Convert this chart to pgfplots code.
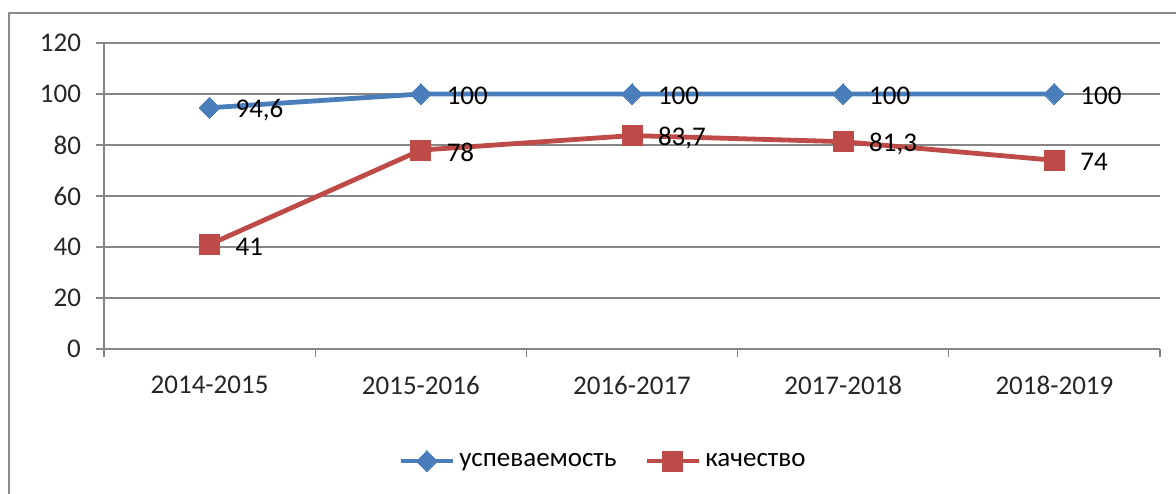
\documentclass[border=0pt]{standalone}
\usepackage{fontspec}
\setmainfont{Carlito}
\usepackage{pgfplots}
\pgfplotsset{compat=1.18}
\definecolor{sblue}{RGB}{74,126,187}
\definecolor{sred}{RGB}{190,75,72}
\definecolor{gridc}{RGB}{134,134,134}
\definecolor{framec}{RGB}{140,140,140}
\begin{document}
\begin{tikzpicture}
\clip (0,0) rectangle (588pt,246.5pt);
\fill[white] (0,0) rectangle (588pt,246.5pt);
\draw[framec, line width=1pt] (4.5pt,-5pt) -- (4.5pt,240pt) -- (600pt,240pt);
\begin{axis}[
  at={(52pt,72pt)}, anchor=south west,
  scale only axis, width=528pt, height=153pt,
  xmin=0.5, xmax=5.5, ymin=0, ymax=120,
  ytick={0,20,...,120},
  xtick={1,2,3,4,5},
  xticklabels={2014-2015,2015-2016,2016-2017,2017-2018,2018-2019},
  minor xtick={0.5,1.5,2.5,3.5,4.5,5.5},
  axis lines*=left,
  axis line style={gridc, line width=0.6pt},
  ymajorgrids, grid style={gridc, line width=0.6pt},
  tick align=outside,
  major tick length=4pt, minor tick length=4pt,
  major x tick style={draw=none},
  minor x tick style={gridc, line width=0.6pt},
  major y tick style={gridc, line width=0.6pt},
  tick label style={font=\fontsize{13.5}{16}\selectfont, text=black!85},
  yticklabel style={xshift=-4pt},
  xticklabel style={yshift=-6pt},
  /pgf/number format/.cd, use comma, assume math mode=true, /pgfplots/.cd,
  nodes near coords,
  every node near coord/.append style={anchor=west, inner sep=0pt, xshift=13pt, yshift=-1pt, font=\fontsize{13.5}{16}\selectfont, text=black},
  legend columns=2,
  legend style={at={(0.4735,-0.366)}, anchor=center, draw=none, fill=none,
    font=\fontsize{13.5}{16}\selectfont, inner sep=0pt,
    /tikz/every even column/.append style={column sep=12pt},
    nodes={inner sep=2pt}},
  legend image code/.code={
    \draw[mark repeat=2,mark phase=2,#1] plot coordinates {(0pt,0pt) (13pt,0pt) (26pt,0pt)};
  },
]
\addplot[sblue, line width=2.4pt, mark=square*, mark size=3.7pt, mark options={rotate=45, fill=sblue, draw=sblue, line width=0pt}]
  coordinates {(1,94.6) (2,100) (3,100) (4,100) (5,100)};
\addlegendentry{успеваемость}
\addplot[sred, line width=2.4pt, mark=square*, mark size=5pt, mark options={fill=sred, draw=sred, line width=0pt}]
  coordinates {(1,41) (2,78) (3,83.7) (4,81.3) (5,74)};
\addlegendentry{качество}
\end{axis}
\end{tikzpicture}
\end{document}
